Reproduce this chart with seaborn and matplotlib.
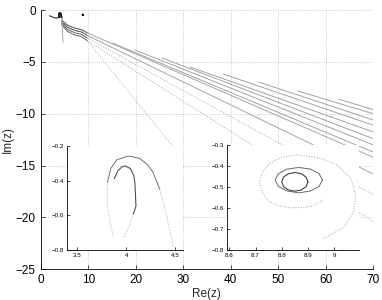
import matplotlib
matplotlib.use("Agg")
import matplotlib.pyplot as plt
import seaborn as sns

# ---- main panel, values ----
# upper family: where each trajectory starts, and its Im(z) at Re(z)=70
upper_x0 = [62.8, 54.1, 45.9, 38.5, 31.5, 25.6, 19.9, 15.2]
upper_y0 = [-8.6, -7.8, -6.95, -6.18, -5.5, -4.63, -3.86, -3.2]
upper_y70 = [-9.6, -10.0, -10.6, -11.1, -11.75, -12.4, -13.0, -13.7]

# four strands leaving the origin cluster (with the hump), then out to Re=70
trunk_x = [4.4, 5.6, 7.2, 8.6, 9.8]
trunk_y = [
    [-0.95, -1.45, -1.75, -1.9, -2.2],
    [-1.1, -1.65, -1.97, -2.12, -2.45],
    [-1.25, -1.85, -2.2, -2.35, -2.7],
    [-1.4, -2.05, -2.42, -2.57, -2.95],
]
trunk_y70 = [-14.2, -15.8, -17.8, -20.4]
trunk_style = ["-", "-", ":", ":"]

# steepest branch, runs under the left inset
steep_x = [9.8, 27.9, 29.5]
steep_y = [-2.95, -13.2, -14.2]

tail_x = [1.9, 2.6, 3.3, 3.8, 4.1]
tail_y = [-0.55, -0.7, -0.78, -0.72, -0.6]

drop_x = [4.5, 4.7]
drop_y = [-0.9, -3.1]

# ---- inset 1: hook near z = 4 - 0.4i ----
outer_x = [3.866, 3.83, 3.805, 3.805, 3.84, 3.9, 4.018, 4.13, 4.22, 4.272, 4.34, 4.41, 4.476]
outer_y = [-0.719, -0.63, -0.546, -0.411, -0.33, -0.28, -0.258, -0.27, -0.31, -0.353, -0.45, -0.6, -0.776]
inner_x = [3.876, 3.91, 3.95, 3.985, 4.04, 4.075, 4.086, 4.097, 4.07, 4.03, 3.975]
inner_y = [-0.388, -0.345, -0.322, -0.315, -0.33, -0.37, -0.411, -0.546, -0.594, -0.66, -0.728]

# ---- inset 2: spiral near z = 8.85 - 0.47i ----
ring1_x = [8.900, 8.893, 8.875, 8.850, 8.825, 8.807, 8.800, 8.807, 8.825, 8.850, 8.875, 8.893, 8.900]
ring1_y = [-0.476, -0.453, -0.437, -0.431, -0.437, -0.453, -0.476, -0.498, -0.514, -0.520, -0.514, -0.498, -0.476]
ring2_x = [8.955, 8.943, 8.910, 8.865, 8.820, 8.787, 8.775, 8.787, 8.820, 8.865, 8.910, 8.943, 8.955]
ring2_y = [-0.467, -0.437, -0.415, -0.407, -0.415, -0.437, -0.467, -0.497, -0.519, -0.528, -0.519, -0.497, -0.467]
spiral_x = [8.96, 9.036, 9.074, 9.083, 9.065, 9.01, 8.94, 8.858, 8.80, 8.756, 8.725, 8.715,
            8.728, 8.75, 8.79, 8.832, 8.88, 8.921, 8.96]
spiral_y = [-0.745, -0.693, -0.622, -0.544, -0.46, -0.394, -0.36, -0.347, -0.358, -0.386, -0.43, -0.48,
            -0.53, -0.567, -0.59, -0.599, -0.598, -0.591, -0.559]


def trace(axis, xs, ys, color, lw=0.7, ls="-"):
    sns.lineplot(x=xs, y=ys, sort=False, estimator=None, ax=axis,
                 color=color, linewidth=lw, linestyle=ls)


def matlab_axes(axis, size, tick_len):
    for side in ["top", "right"]:
        axis.spines[side].set_visible(False)
    for side in ["left", "bottom"]:
        axis.spines[side].set_color("black")
        axis.spines[side].set_linewidth(0.6)
    axis.tick_params(direction="in", length=tick_len, width=0.5, labelsize=size,
                     left=True, bottom=True, colors="black")


sns.set_style("white")
plt.rcParams["font.family"] = ["Liberation Sans", "DejaVu Sans"]

fig = plt.figure(figsize=(3.82, 3.0), dpi=100)
ax = fig.add_axes([0.1065, 0.1023, 0.8704, 0.8643])

for x0, y0, y70 in zip(upper_x0, upper_y0, upper_y70):
    trace(ax, [x0, 70], [y0, y70], "#9c9c9c", 0.65)
for ys, y70, st in zip(trunk_y, trunk_y70, trunk_style):
    trace(ax, trunk_x + [70], ys + [y70], "#a4a4a4", 0.7, st)
trace(ax, steep_x, steep_y, "#b0b0b0", 0.7, ":")
for ys in trunk_y:
    trace(ax, trunk_x, ys, "#5a5a5a", 0.6)
trace(ax, tail_x, tail_y, "#333333", 0.8)
trace(ax, drop_x, drop_y, "#a8a8a8", 0.7)
trace(ax, outer_x, outer_y, "black", 0.9)
trace(ax, inner_x, inner_y, "black", 0.9)
trace(ax, ring2_x, ring2_y, "black", 1.0)

ax.set_xlim(0, 70)
ax.set_ylim(-25, 0)
ax.set_xticks(range(0, 71, 10))
ax.set_yticks(range(-25, 1, 5))
ax.grid(True, linestyle=":", color="#bcbcbc", linewidth=0.6)
matlab_axes(ax, 8.5, 3)
ax.set_xlabel("Re(z)", fontsize=8.5, labelpad=1)
ax.set_ylabel("Im(z)", fontsize=8.5, labelpad=1.5)

# left inset
ax1 = fig.add_axes([0.1746, 0.1667, 0.3052, 0.3467])
ax1.set_facecolor("white")
trace(ax1, outer_x[:4], outer_y[:4], "#b0b0b0", 0.7, ":")
trace(ax1, outer_x[3:11], outer_y[3:11], "#707070", 0.7)
trace(ax1, outer_x[10:], outer_y[10:], "#a8a8a8", 0.7, ":")
trace(ax1, inner_x[:9], inner_y[:9], "#505050", 0.8)
trace(ax1, inner_x[8:], inner_y[8:], "#a8a8a8", 0.7, ":")
ax1.set_xlim(3.39, 4.58)
ax1.set_ylim(-0.8, -0.2)
ax1.set_xticks([3.5, 4, 4.5])
ax1.set_xticklabels(["3.5", "4", "4.5"])
ax1.set_yticks([-0.8, -0.6, -0.4, -0.2])
matlab_axes(ax1, 4.5, 2)
ax1.tick_params(pad=2)

# right inset
ax2 = fig.add_axes([0.5935, 0.1667, 0.3463, 0.35])
ax2.set_facecolor("white")
trace(ax2, spiral_x, spiral_y, "#a0a0a0", 0.7, ":")
trace(ax2, ring2_x, ring2_y, "#6a6a6a", 0.7)
trace(ax2, ring1_x, ring1_y, "#404040", 0.8)
ax2.set_xlim(8.59, 9.095)
ax2.set_ylim(-0.8, -0.3)
ax2.set_xticks([8.6, 8.7, 8.8, 8.9, 9])
ax2.set_xticklabels(["8.6", "8.7", "8.8", "8.9", "9"])
ax2.set_yticks([-0.8, -0.7, -0.6, -0.5, -0.4, -0.3])
matlab_axes(ax2, 4.5, 2)
ax2.tick_params(pad=2)

fig.savefig("out.png", dpi=100)
